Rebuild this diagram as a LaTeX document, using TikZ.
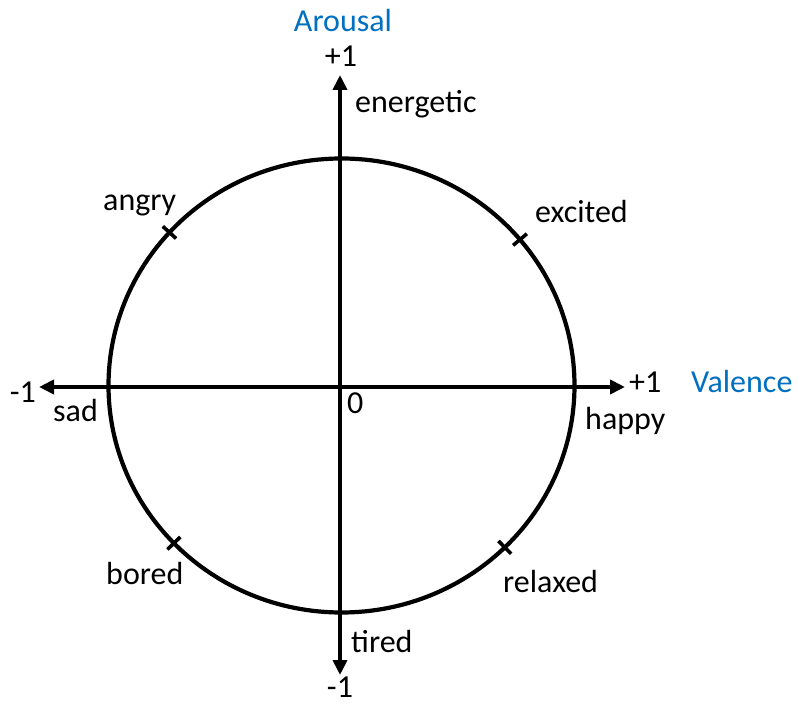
\documentclass[tikz,border=0pt]{standalone}
\usepackage{fontspec}
\setmainfont{Carlito}
\usetikzlibrary{arrows.meta,calc}
\definecolor{axisblue}{HTML}{0070C0}
\begin{document}
\begin{tikzpicture}[x=1pt,y=1pt,
  lbl/.style={inner sep=0pt,font=\fontsize{32}{38}\selectfont,text=black},
  axlbl/.style={lbl,text=axisblue},
  axis/.style={line width=4.2pt,{Triangle[length=15pt,width=14pt]}-{Triangle[length=15pt,width=14pt]}},
  ring/.style={line width=4.2pt},
  tick/.style={line width=3.6pt}]
\useasboundingbox (0,0) rectangle (798,705);
\coordinate (c) at (341.5,319.5);
\coordinate (top) at (340,630);
\coordinate (bot) at (340,30);
\coordinate (lft) at (39,318);
\coordinate (rgt) at (625,318);
\draw[ring] (c) ellipse [x radius=233, y radius=227];
\draw[axis] (bot) -- (top);
\draw[axis] (lft) -- (rgt);
\foreach \t/\n in {137.6/ta,40/te,224/tb,-45.5/tr}{
  \coordinate (\n1) at ($(c)+(\t:224 and 218)$);
  \coordinate (\n2) at ($(c)+(\t:242 and 236)$);
  \draw[tick] (\n1) -- (\n2);
}
\node[axlbl,anchor=base] (arousal) at (343,673) {Arousal};
\node[lbl,anchor=base] (ptop) at (341,638) {+1};
\node[lbl,anchor=base west] (energetic) at (355,592) {energetic};
\node[lbl,anchor=base west] (angry) at (103,494) {angry};
\node[lbl,anchor=base west] (excited) at (535,482) {excited};
\node[lbl,anchor=base east] (mleft) at (36,302) {-1};
\node[lbl,anchor=base west] (sad) at (53,283) {sad};
\node[lbl,anchor=base west] (pright) at (629,312) {+1};
\node[axlbl,anchor=base west] (valence) at (691,312) {Valence};
\node[lbl,anchor=base west] (happy) at (585,275) {happy};
\node[lbl,anchor=base west] (zero) at (347,291) {0};
\node[lbl,anchor=base west] (tired) at (351,53) {tired};
\node[lbl,anchor=base] (mbot) at (340,8) {-1};
\node[lbl,anchor=base west] (bored) at (106,121) {bored};
\node[lbl,anchor=base west] (relaxed) at (503,113) {relaxed};
\end{tikzpicture}
\end{document}
